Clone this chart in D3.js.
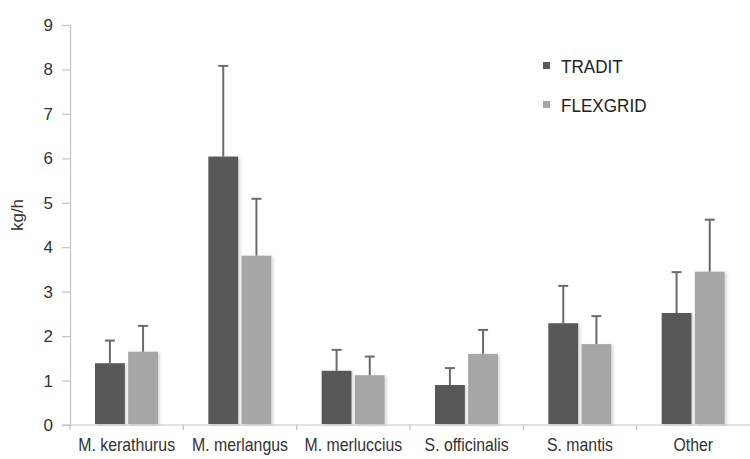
<!DOCTYPE html>
<html>
<head>
<meta charset="utf-8">
<script src="https://cdn.jsdelivr.net/npm/d3@7"></script>
<style>
  body { margin: 0; background: #fff; }
  text { font-family: "Liberation Sans", Arial, sans-serif; }
</style>
</head>
<body>
<svg id="chart"></svg>
<script>
const categories = ["M. kerathurus", "M. merlangus", "M. merluccius", "S. officinalis", "S. mantis", "Other"];
const seriesNames = ["TRADIT", "FLEXGRID"];
const tradit = [1.39, 6.04, 1.22, 0.90, 2.29, 2.52];
const traditErr = [0.51, 2.04, 0.47, 0.38, 0.84, 0.92];
const flexgrid = [1.65, 3.81, 1.12, 1.60, 1.82, 3.45];
const flexgridErr = [0.58, 1.28, 0.42, 0.54, 0.63, 1.17];
const yTicks = [0, 1, 2, 3, 4, 5, 6, 7, 8, 9];

const width = 750, height = 459;
const colors = { TRADIT: "#595959", FLEXGRID: "#a6a6a6" };

const svg = d3.select("#chart")
  .attr("width", width)
  .attr("height", height);

// drop shadow like the original office chart
const defs = svg.append("defs");
defs.append("filter")
  .attr("id", "shadow")
  .attr("x", "-20%").attr("y", "-5%")
  .attr("width", "150%").attr("height", "115%")
  .append("feDropShadow")
  .attr("dx", 2).attr("dy", 1)
  .attr("stdDeviation", 1.5)
  .attr("flood-color", "#000")
  .attr("flood-opacity", 0.15);

const yScale = d3.scaleLinear()
  .domain([0, 9])
  .range([425, 25]);

const xScale = d3.scaleBand()
  .domain(categories)
  .range([70, 750])
  .padding(0);

const xSub = d3.scaleBand()
  .domain(seriesNames)
  .range([25, 88])
  .paddingInner(0.1);

// y axis
const yAxis = svg.append("g")
  .attr("transform", "translate(70,0)")
  .call(d3.axisLeft(yScale).tickValues(yTicks).tickFormat(d3.format("d")).tickSize(8).tickPadding(9));
yAxis.select(".domain").attr("stroke", "#c4c4c4").attr("stroke-width", 1.2);
yAxis.selectAll(".tick line").attr("stroke", "#c4c4c4").attr("stroke-width", 1.2);
yAxis.selectAll(".tick text")
  .attr("fill", "#333")
  .style("font-size", "17px");

// x axis
const xAxis = svg.append("g")
  .attr("transform", "translate(0,425)");
xAxis.append("line")
  .attr("x1", 62).attr("x2", 750)
  .attr("stroke", "#c4c4c4").attr("stroke-width", 1.2);
xAxis.selectAll(".sep")
  .data(categories)
  .enter()
  .append("line")
  .attr("x1", d => xScale(d))
  .attr("x2", d => xScale(d))
  .attr("y1", 0).attr("y2", 5)
  .attr("stroke", "#c4c4c4").attr("stroke-width", 1.2);
xAxis.selectAll(".lbl")
  .data(categories)
  .enter()
  .append("text")
  .attr("transform", d => `translate(${xScale(d) + xScale.bandwidth() / 2}, 26) scale(0.88,1)`)
  .attr("text-anchor", "middle")
  .attr("fill", "#333")
  .style("font-size", "18px")
  .text(d => d);

// y label
svg.append("text")
  .attr("transform", "translate(23,215) rotate(-90)")
  .attr("text-anchor", "middle")
  .attr("fill", "#333")
  .style("font-size", "17px")
  .text("kg/h");

// bars
const rows = [];
categories.forEach((c, i) => {
  rows.push({ cat: c, s: "TRADIT", v: tradit[i], e: traditErr[i] });
  rows.push({ cat: c, s: "FLEXGRID", v: flexgrid[i], e: flexgridErr[i] });
});

const barGroups = svg.append("g");

barGroups.selectAll("rect")
  .data(rows)
  .enter()
  .append("rect")
  .attr("x", d => xScale(d.cat) + xSub(d.s))
  .attr("y", d => yScale(d.v))
  .attr("width", xSub.bandwidth())
  .attr("height", d => yScale(0) - yScale(d.v) - 1)
  .attr("fill", d => colors[d.s])
  .attr("filter", "url(#shadow)");

// error bars (upper only)
const errG = svg.append("g")
  .attr("stroke", "#6a6a6a")
  .attr("stroke-width", 2);

errG.selectAll(".stem")
  .data(rows)
  .enter()
  .append("line")
  .attr("x1", d => xScale(d.cat) + xSub(d.s) + xSub.bandwidth() / 2)
  .attr("x2", d => xScale(d.cat) + xSub(d.s) + xSub.bandwidth() / 2)
  .attr("y1", d => yScale(d.v))
  .attr("y2", d => yScale(d.v + d.e));

errG.selectAll(".cap")
  .data(rows)
  .enter()
  .append("line")
  .attr("x1", d => xScale(d.cat) + xSub(d.s) + xSub.bandwidth() / 2 - 5)
  .attr("x2", d => xScale(d.cat) + xSub(d.s) + xSub.bandwidth() / 2 + 5)
  .attr("y1", d => yScale(d.v + d.e))
  .attr("y2", d => yScale(d.v + d.e));

// legend
const legend = svg.append("g")
  .attr("transform", "translate(543,62)");
seriesNames.forEach((s, i) => {
  const g = legend.append("g").attr("transform", `translate(0, ${i * 39})`);
  g.append("rect")
    .attr("width", 7).attr("height", 7)
    .attr("fill", colors[s]);
  g.append("text")
    .attr("transform", "translate(18,11) scale(0.95,1)")
    .attr("fill", "#222")
    .style("font-size", "18px")
    .text(s);
});
</script>
</body>
</html>
